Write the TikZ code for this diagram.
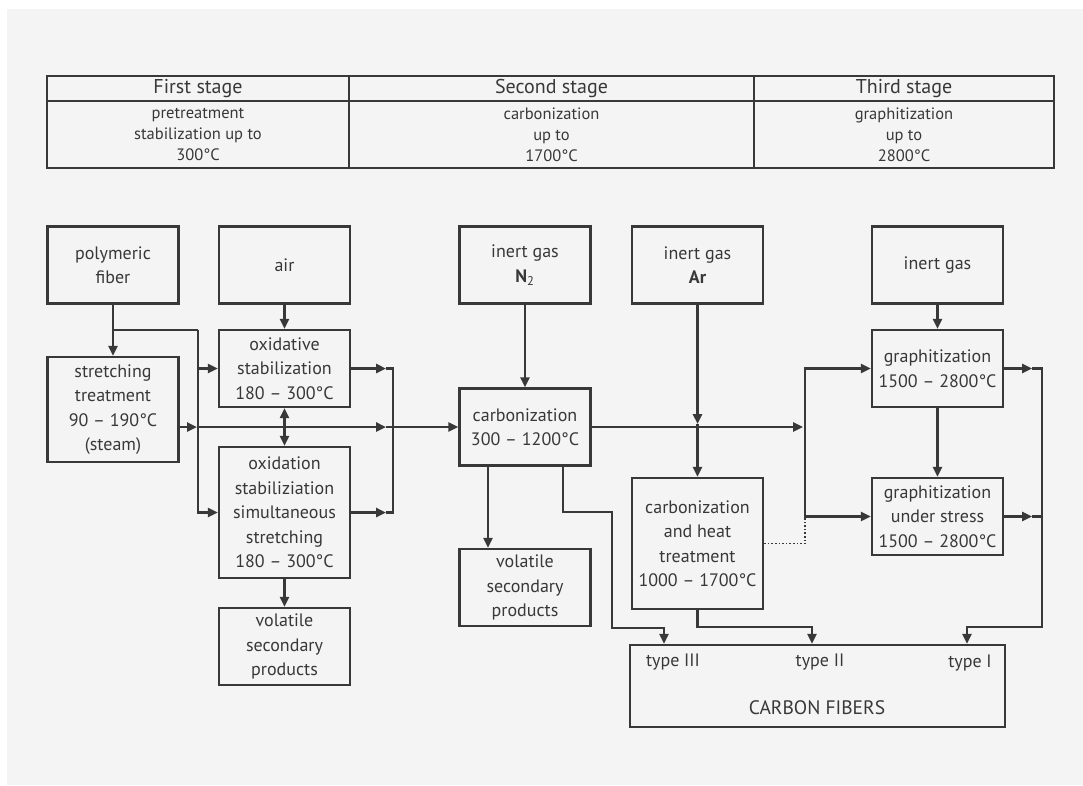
\documentclass[tikz,border=0pt]{standalone}
\usepackage{fontspec}
\setmainfont{PT Sans}
\usetikzlibrary{arrows.meta}
\definecolor{ink}{HTML}{383838}
\definecolor{paper}{HTML}{F4F4F4}
\tikzstyle{box}=[draw=ink,line width=2.4pt,minimum width=131pt,minimum height=77pt,inner sep=0pt,align=center,text=ink,font=\fontsize{18}{24.5}\selectfont]
\tikzstyle{cell}=[draw=ink,line width=2.4pt,inner sep=0pt,align=center,text=ink]
\tikzstyle{head}=[cell,minimum height=25pt,font=\fontsize{20}{20}\selectfont]
\tikzstyle{body}=[cell,minimum height=67pt,font=\fontsize{16.5}{21}\selectfont]
\tikzstyle{txt}=[text=ink,inner sep=0pt,font=\fontsize{18}{20}\selectfont]
\tikzstyle{ln}=[draw=ink,line width=2.4pt]
\tikzstyle{arr}=[ln,-{Triangle[length=10pt,width=9pt]}]
\tikzstyle{dbl}=[ln,{Triangle[length=10pt,width=9pt]}-{Triangle[length=10pt,width=9pt]}]
\tikzstyle{dot}=[draw=ink,line width=1.6pt,dotted]

\begin{document}
\begin{tikzpicture}[x=1pt,y=-1pt]
\useasboundingbox (0,0) rectangle (1083,785);
\fill[paper] (7,9) rectangle (1083,785);
%stages
\node[head,minimum width=302pt] (hdA) at (198,88.5) {First stage};
\node[head,minimum width=405pt] (hdB) at (551.5,88.5) {Second stage};
\node[head,minimum width=300pt] (hdC) at (904,88.5) {Third stage};
\node[body,minimum width=302pt] (bdA) at (198,134.5) {pretreatment\\stabilization up to\\300°C};
\node[body,minimum width=405pt] (bdB) at (551.5,134.5) {carbonization\\up to\\1700°C};
\node[body,minimum width=300pt] (bdC) at (904,134.5) {graphitization\\up to\\2800°C};

\begin{scope} %first stage
	\node[box] (poly) at (113,265) {polymeric\\fiber};
	\node[box] (air) at (284.5,265) {air};
	\node[box,minimum height=105pt] (stretch) at (113,409.5) {stretching\\treatment\\90 – 190°C\\(steam)};
	\node[box] (oxstab) at (284.5,368.5) {oxidative\\stabilization\\180 – 300°C};
	\node[box,minimum height=131pt] (oxsim) at (284.5,512.5) {oxidation\\stabiliziation\\simultaneous\\stretching\\180 – 300°C};
	\node[box] (volA) at (284.5,646.5) {volatile\\secondary\\products};
	\coordinate (feed) at (198,330);
	\coordinate (m1) at (197,427);
	\coordinate (m2) at (386,427);
	\coordinate (c1) at (386,368.5);
	\coordinate (c2) at (386,512.5);
	\coordinate (bus) at (393,427);
	\draw[arr] (poly) -- (stretch);
	\draw[ln] (poly.south |- feed) -- (feed);
	\draw[arr] (feed) |- (oxstab.west);
	\draw[arr] (feed) |- (oxsim.west);
	\draw[arr] (air) -- (oxstab);
	\draw[dbl] (oxstab) -- (oxsim);
	\draw[arr] (oxsim) -- (volA);
	\draw[arr] (stretch.east |- m1) -- (m1);
	\draw[arr] (m1) -- (m2);
	\draw[arr] (oxstab.east) -- (c1);
	\draw[arr] (oxsim.east) -- (c2);
	\draw[ln] (c1) -| (bus |- c2) -- (c2);
\end{scope}

\begin{scope} %second stage
	\node[box] (nitro) at (525,265) {inert gas\\\textbf{N}\textsubscript{2}};
	\node[box] (argon) at (697.5,265) {inert gas\\\textbf{Ar}};
	\node[box] (carb) at (525,427) {carbonization\\300 – 1200°C};
	\node[box] (volB) at (525,587.5) {volatile\\secondary\\products};
	\node[box,minimum height=131pt] (heat) at (697.5,543.5) {carbonization\\and heat\\treatment\\1000 – 1700°C};
	\coordinate (m3) at (697.5,424);
	\coordinate (k1) at (612,512);
	\coordinate (k2) at (664,628);
	\coordinate (k3) at (812,627);
	\draw[arr] (m2) -- (carb.west);
	\draw[arr] (nitro) -- (carb);
	\draw[arr] (argon) -- (m3);
	\draw[arr] (m3) -- (heat);
	\draw[arr] ([xshift=-37pt]carb.south) -- ([xshift=-37pt]volB.north);
\end{scope}

\begin{scope} %third stage
	\node[box] (inert) at (937.5,265) {inert gas};
	\node[box] (graph) at (937.5,368.5) {graphitization\\1500 – 2800°C};
	\node[box] (stress) at (937.5,516.5) {graphitization\\under stress\\1500 – 2800°C};
	\coordinate (m4) at (803,427);
	\coordinate (fork) at (805,427);
	\coordinate (g1) at (1032,368.5);
	\coordinate (g2) at (1032,516.5);
	\coordinate (rbus) at (1042,627);
	\coordinate (k4) at (967,627);
	\draw[arr] (carb.east) -- (m4);
	\draw[arr] (fork) |- (graph.west);
	\draw[arr] (fork) |- (stress.west);
	\draw[dot] (heat.east) -| (fork |- stress.west);
	\draw[arr] (inert) -- (graph);
	\draw[arr] (graph) -- (stress);
	\draw[arr] (graph.east) -- (g1);
	\draw[arr] (stress.east) -- (g2);
	\draw[ln] (g2) -- (g2 -| rbus);
\end{scope}

%carbon fibers
\node[box,minimum width=375pt,minimum height=82pt] (fibers) at (817.5,686) {};
\node[txt] (tIII) at (673,662) {type III};
\node[txt] (tII) at (820,662) {type II};
\node[txt] (tI) at (970,663) {type I};
\node[txt,font=\fontsize{19.5}{20}\selectfont] (cf) at (817,708) {CARBON FIBERS};
\draw[arr] ([xshift=38pt]carb.south) |- (k1) |- (k2) -- (k2 |- fibers.north);
\draw[arr] (heat.south) |- (k3) -- (k3 |- fibers.north);
\draw[arr] (g1) -| (rbus) -| (k4 |- fibers.north);

\end{tikzpicture}
\end{document}
